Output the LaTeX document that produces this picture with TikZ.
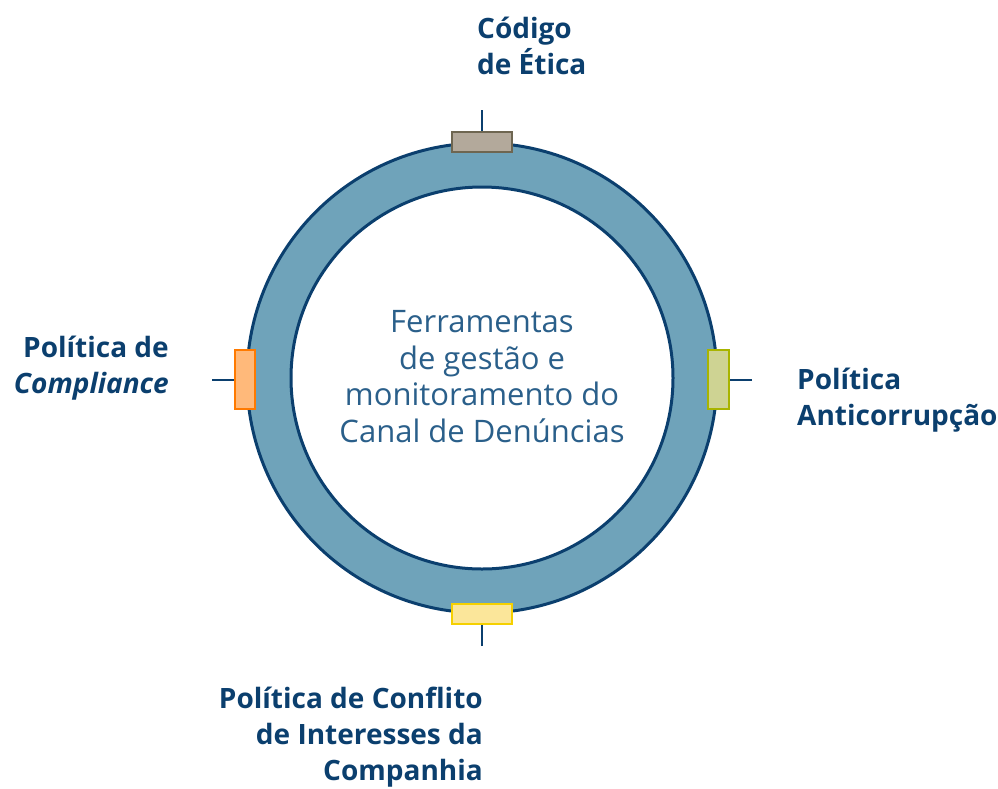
\documentclass[tikz,border=0pt]{standalone}
\usepackage{fontspec}
\setmainfont{Open Sans}
\definecolor{navy}{HTML}{0B3F6E}
\definecolor{ringfill}{HTML}{6FA3BA}
\definecolor{ctext}{HTML}{2A5F8A}
\definecolor{grayfill}{HTML}{B3A99B}
\definecolor{graydraw}{HTML}{6E6651}
\definecolor{orfill}{HTML}{FFB97A}
\definecolor{ordraw}{HTML}{FF7A00}
\definecolor{grfill}{HTML}{CED393}
\definecolor{grdraw}{HTML}{A8B400}
\definecolor{yefill}{HTML}{FBE69A}
\definecolor{yedraw}{HTML}{F5D000}
\begin{document}
\begin{tikzpicture}[x=1pt,y=-1pt,
  lbl/.style={font=\fontsize{28}{36}\selectfont\bfseries, text=navy, inner sep=0pt},
  tick/.style={draw=navy, line width=2pt},
  markbox/.style={line width=2pt}]
\useasboundingbox (0,0) rectangle (998,788);
\coordinate (c) at (482,378);
% ring
\fill[ringfill, even odd rule] (c) circle (235) (c) circle (191);
\draw[navy, line width=3pt] (c) circle (235);
\draw[navy, line width=3pt] (c) circle (191);
% ticks
\coordinate (t1) at (482,110); \coordinate (t1e) at (482,132);
\coordinate (l1) at (212,380); \coordinate (l1e) at (235,380);
\coordinate (r1) at (752,380); \coordinate (r1e) at (729,380);
\coordinate (b1) at (482,646); \coordinate (b1e) at (482,624);
\draw[tick] (t1) -- (t1e);
\draw[tick] (l1) -- (l1e);
\draw[tick] (r1) -- (r1e);
\draw[tick] (b1) -- (b1e);
% markers
\draw[markbox, fill=grayfill, draw=graydraw] (452,132) rectangle (512,152);
\draw[markbox, fill=orfill, draw=ordraw] (235,350) rectangle (255,409);
\draw[markbox, fill=grfill, draw=grdraw] (708,350) rectangle (729,409);
\draw[markbox, fill=yefill, draw=yedraw] (452,604) rectangle (512,624);
% labels (base anchor = baseline of last line)
\node[lbl, anchor=base west, align=left] (top) at (477,74) {Código\\de Ética};
\node[lbl, anchor=base east, align=right] (left) at (169,393) {Política de\\\textit{Compliance}};
\node[lbl, anchor=base west, align=left] (right) at (797,425) {Política\\Anticorrupção};
\node[lbl, anchor=base east, align=right] (bottom) at (483,780) {Política de Conflito\\de Interesses da\\Companhia};
\node[font=\fontsize{31}{36.5}\selectfont, text=ctext, align=center, inner sep=0pt, anchor=base] (center) at (482,442) {Ferramentas\\de gestão e\\monitoramento do\\Canal de Denúncias};
\end{tikzpicture}
\end{document}
